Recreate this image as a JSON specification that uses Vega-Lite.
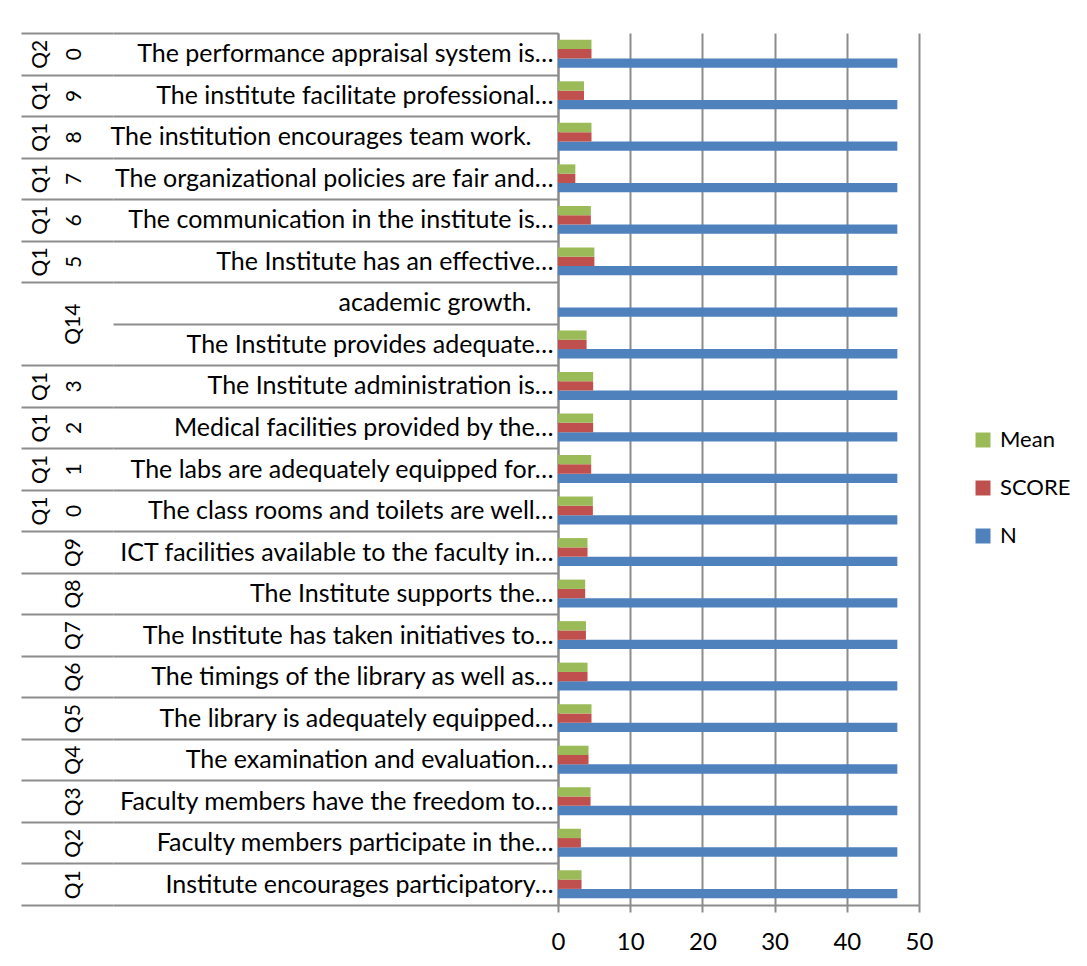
{
  "$schema": "https://vega.github.io/schema/vega-lite/v6.json",
  "width": 361,
  "height": 872,
  "autosize": {"type": "none"},
  "padding": {"left": 558, "top": 33, "right": 168, "bottom": 61},
  "background": "white",
  "config": {"font": "Lato", "view": {"stroke": null}},
  "data": {"values": [
    {"row": "Q2 0|The performance appraisal system is…", "series": "N", "value": 47},
    {"row": "Q2 0|The performance appraisal system is…", "series": "SCORE", "value": 4.64},
    {"row": "Q2 0|The performance appraisal system is…", "series": "Mean", "value": 4.64},
    {"row": "Q1 9|The institute facilitate professional…", "series": "N", "value": 47},
    {"row": "Q1 9|The institute facilitate professional…", "series": "SCORE", "value": 3.6},
    {"row": "Q1 9|The institute facilitate professional…", "series": "Mean", "value": 3.6},
    {"row": "Q1 8|The institution encourages team work.", "series": "N", "value": 47},
    {"row": "Q1 8|The institution encourages team work.", "series": "SCORE", "value": 4.64},
    {"row": "Q1 8|The institution encourages team work.", "series": "Mean", "value": 4.64},
    {"row": "Q1 7|The organizational policies are fair and…", "series": "N", "value": 47},
    {"row": "Q1 7|The organizational policies are fair and…", "series": "SCORE", "value": 2.4},
    {"row": "Q1 7|The organizational policies are fair and…", "series": "Mean", "value": 2.4},
    {"row": "Q1 6|The communication in the institute is…", "series": "N", "value": 47},
    {"row": "Q1 6|The communication in the institute is…", "series": "SCORE", "value": 4.55},
    {"row": "Q1 6|The communication in the institute is…", "series": "Mean", "value": 4.55},
    {"row": "Q1 5|The Institute has an effective…", "series": "N", "value": 47},
    {"row": "Q1 5|The Institute has an effective…", "series": "SCORE", "value": 5.04},
    {"row": "Q1 5|The Institute has an effective…", "series": "Mean", "value": 5.04},
    {"row": "Q14|academic growth.", "series": "N", "value": 47},
    {"row": "|The Institute provides adequate…", "series": "N", "value": 47},
    {"row": "|The Institute provides adequate…", "series": "SCORE", "value": 3.96},
    {"row": "|The Institute provides adequate…", "series": "Mean", "value": 3.96},
    {"row": "Q1 3|The Institute administration is…", "series": "N", "value": 47},
    {"row": "Q1 3|The Institute administration is…", "series": "SCORE", "value": 4.87},
    {"row": "Q1 3|The Institute administration is…", "series": "Mean", "value": 4.87},
    {"row": "Q1 2|Medical facilities provided by the…", "series": "N", "value": 47},
    {"row": "Q1 2|Medical facilities provided by the…", "series": "SCORE", "value": 4.87},
    {"row": "Q1 2|Medical facilities provided by the…", "series": "Mean", "value": 4.87},
    {"row": "Q1 1|The labs are adequately equipped for…", "series": "N", "value": 47},
    {"row": "Q1 1|The labs are adequately equipped for…", "series": "SCORE", "value": 4.6},
    {"row": "Q1 1|The labs are adequately equipped for…", "series": "Mean", "value": 4.6},
    {"row": "Q1 0|The class rooms and toilets are well…", "series": "N", "value": 47},
    {"row": "Q1 0|The class rooms and toilets are well…", "series": "SCORE", "value": 4.83},
    {"row": "Q1 0|The class rooms and toilets are well…", "series": "Mean", "value": 4.83},
    {"row": "Q9|ICT facilities available to the faculty in…", "series": "N", "value": 47},
    {"row": "Q9|ICT facilities available to the faculty in…", "series": "SCORE", "value": 4.09},
    {"row": "Q9|ICT facilities available to the faculty in…", "series": "Mean", "value": 4.09},
    {"row": "Q8|The Institute supports the…", "series": "N", "value": 47},
    {"row": "Q8|The Institute supports the…", "series": "SCORE", "value": 3.77},
    {"row": "Q8|The Institute supports the…", "series": "Mean", "value": 3.77},
    {"row": "Q7|The Institute has taken initiatives to…", "series": "N", "value": 47},
    {"row": "Q7|The Institute has taken initiatives to…", "series": "SCORE", "value": 3.87},
    {"row": "Q7|The Institute has taken initiatives to…", "series": "Mean", "value": 3.87},
    {"row": "Q6|The timings of the library as well as…", "series": "N", "value": 47},
    {"row": "Q6|The timings of the library as well as…", "series": "SCORE", "value": 4.09},
    {"row": "Q6|The timings of the library as well as…", "series": "Mean", "value": 4.09},
    {"row": "Q5|The library is adequately equipped…", "series": "N", "value": 47},
    {"row": "Q5|The library is adequately equipped…", "series": "SCORE", "value": 4.64},
    {"row": "Q5|The library is adequately equipped…", "series": "Mean", "value": 4.64},
    {"row": "Q4|The examination and evaluation…", "series": "N", "value": 47},
    {"row": "Q4|The examination and evaluation…", "series": "SCORE", "value": 4.23},
    {"row": "Q4|The examination and evaluation…", "series": "Mean", "value": 4.23},
    {"row": "Q3|Faculty members have the freedom to…", "series": "N", "value": 47},
    {"row": "Q3|Faculty members have the freedom to…", "series": "SCORE", "value": 4.51},
    {"row": "Q3|Faculty members have the freedom to…", "series": "Mean", "value": 4.51},
    {"row": "Q2|Faculty members participate in the…", "series": "N", "value": 47},
    {"row": "Q2|Faculty members participate in the…", "series": "SCORE", "value": 3.17},
    {"row": "Q2|Faculty members participate in the…", "series": "Mean", "value": 3.17},
    {"row": "Q1|Institute encourages participatory…", "series": "N", "value": 47},
    {"row": "Q1|Institute encourages participatory…", "series": "SCORE", "value": 3.26},
    {"row": "Q1|Institute encourages participatory…", "series": "Mean", "value": 3.26}
  ]},
  "encoding": {
    "y": {
      "field": "row", "type": "nominal", "sort": null,
      "scale": {"type": "band", "paddingInner": 0, "paddingOuter": 0}
    }
  },
  "layer": [
    {
      "mark": {"type": "bar"},
      "encoding": {
        "y": {
          "field": "row", "type": "nominal", "sort": null,
          "axis": {
            "title": null, "orient": "left",
            "labelExpr": "isString(datum.value) ? split(datum.value, '|')[1] : ''",
            "labelFont": "Lato", "labelFontSize": 25, "labelColor": "#000000",
            "labelAlign": "right", "labelBaseline": "middle", "labelLimit": 1000,
            "labelOverlap": false,
            "labelPadding": {"condition": {"test": "isString(datum.value) && (indexof(datum.value, 'team work') >= 0 || indexof(datum.value, 'academic growth') >= 0)", "value": -418}, "value": -440},
            "ticks": true, "tickBand": "extent", "tickSize": 445, "tickColor": "#8c8c8c", "tickWidth": 2,
            "domain": true, "domainColor": "#8c8c8c", "domainWidth": 2,
            "grid": false
          }
        },
        "yOffset": {
          "field": "series", "type": "nominal", "sort": ["Mean", "SCORE", "N"],
          "scale": {"paddingInner": 0, "paddingOuter": 0.73}
        },
        "x": {
          "field": "value", "type": "quantitative",
          "scale": {"domain": [0, 50], "nice": false},
          "axis": {
            "title": null, "orient": "bottom", "values": [0, 10, 20, 30, 40, 50],
            "grid": true, "gridColor": "#8c8c8c", "gridWidth": 2,
            "domainColor": "#8c8c8c", "domainWidth": 2,
            "tickColor": "#8c8c8c", "tickWidth": 2, "tickSize": 7,
            "labelFont": "Lato", "labelFontSize": 24, "labelColor": "#000000",
            "labelPadding": 18, "labelFlush": false
          }
        },
        "color": {
          "field": "series", "type": "nominal",
          "scale": {"domain": ["Mean", "SCORE", "N"], "range": ["#9BBB59", "#C0504D", "#4F81BD"]},
          "legend": {
            "title": null, "orient": "none", "legendX": 414, "legendY": 396,
            "symbolType": "square", "symbolSize": 225, "symbolStrokeWidth": 0,
            "labelFont": "Lato", "labelFontSize": 22, "labelColor": "#000000",
            "labelOffset": 6, "rowPadding": 26, "padding": 0
          }
        }
      }
    },
    {
      "mark": {"type": "tick", "opacity": 0},
      "encoding": {
        "x": {"field": "value", "type": "quantitative"},
        "y": {
          "field": "row", "type": "nominal", "sort": null,
          "axis": {
            "title": null, "orient": "left", "offset": 445,
            "domain": false, "grid": false,
            "labelExpr": "isString(datum.value) ? split(split(datum.value, '|')[0], ' ') : ''",
            "labelAngle": 270, "labelAlign": "center", "labelBaseline": "bottom",
            "labelFont": "Lato", "labelFontSize": 21, "labelLineHeight": 34, "labelColor": "#000000",
            "labelOverlap": false,
            "labelPadding": {"condition": {"test": "isString(datum.value) && substring(datum.value, 2, 3) === ' '", "value": -29}, "value": -62},
            "labelOffset": {"condition": {"test": "isString(datum.value) && indexof(datum.value, 'academic growth') >= 0", "value": 20.76}, "value": 0},
            "ticks": true, "tickBand": "extent", "tickSize": 92, "tickColor": "#8c8c8c", "tickWidth": 2,
            "tickOpacity": {"condition": {"test": "isString(datum.value) && indexof(datum.value, 'academic growth') >= 0", "value": 0}, "value": 1}
          }
        }
      }
    }
  ],
  "resolve": {"axis": {"y": "independent"}}
}
